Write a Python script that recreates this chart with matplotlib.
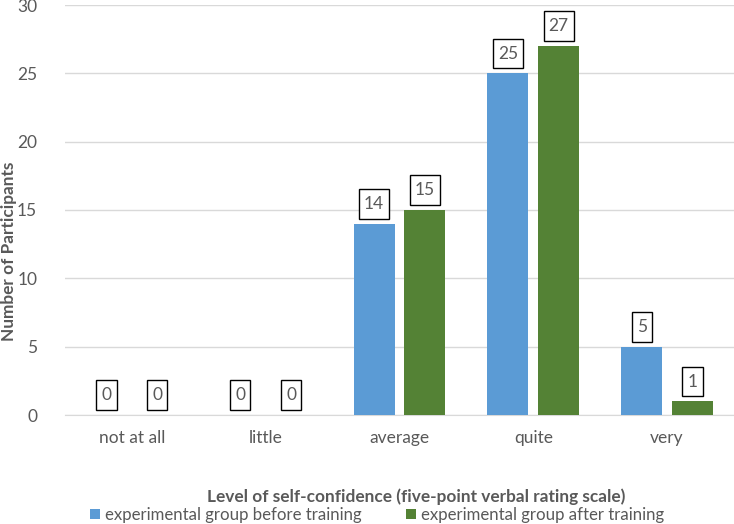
import numpy as np
import matplotlib.pyplot as plt
from matplotlib.path import Path

plt.rcParams['font.family'] = ['Lato', 'DejaVu Sans']

categories = ['not at all', 'little', 'average', 'quite', 'very']
before = [0, 0, 14, 25, 5]
after = [0, 0, 15, 27, 1]
labels = ['experimental group before training', 'experimental group after training']

gray = '#595959'
blue = '#5B9BD5'
green = '#548235'


# label box: taller padding than wide, like the Excel callouts
def label_box(x0, y0, width, height, mutation_size):
    px, py = 0.29 * mutation_size, 0.39 * mutation_size
    x0, y0 = x0 - px, y0 - py
    x1, y1 = x0 + width + 2 * px, y0 + height + 2 * py
    return Path([(x0, y0), (x1, y0), (x1, y1), (x0, y1), (x0, y0)], closed=True)


fig = plt.figure(figsize=(7.34, 5.24), dpi=100)
ax = fig.add_axes([65 / 734, 1 - 415 / 524, 1 - 65 / 734, 410 / 524])

x = np.arange(len(categories))
w = 0.306
off = 0.19
b1 = ax.bar(x - off, before, w, color=blue, label=labels[0], zorder=3)
b2 = ax.bar(x + off, after, w, color=green, label=labels[1], zorder=3)

for bars, vals in [(b1, before), (b2, after)]:
    for rect, v in zip(bars, vals):
        ax.annotate(str(v), (rect.get_x() + rect.get_width() / 2, v),
                    xytext=(0, 8.5), textcoords='offset points',
                    ha='center', va='bottom', fontsize=12.5, color=gray,
                    bbox=dict(boxstyle=label_box, fc='white', ec='black', lw=1))

ax.set_xlim(-0.5, len(categories) - 0.5)
ax.set_ylim(0, 30)
ax.set_yticks(range(0, 31, 5))
ax.set_xticks(x)
ax.set_xticklabels(categories)
ax.tick_params(axis='both', length=0, labelsize=12.5, colors=gray)
ax.tick_params(axis='x', pad=11)
ax.tick_params(axis='y', pad=20)
ax.grid(axis='y', color='#D9D9D9', lw=1, zorder=0)
for s in ['top', 'right', 'left']:
    ax.spines[s].set_visible(False)
ax.spines['bottom'].set_color('#D9D9D9')

fig.text(9 / 734, 1 - 251 / 524, 'Number of Participants', rotation=90,
         ha='center', va='center', fontsize=12.4, fontweight='bold', color=gray)
fig.text(416 / 734, 1 - 497 / 524, 'Level of self-confidence (five-point verbal rating scale)',
         ha='center', va='center', fontsize=12.4, fontweight='bold', color=gray)

leg = fig.legend(loc='center', bbox_to_anchor=(377 / 734, 1 - 515 / 524), ncol=2,
                 frameon=False, fontsize=12.1, handlelength=0.6, handleheight=0.6,
                 columnspacing=2.6, handletextpad=0.3, borderaxespad=0, borderpad=0)
for t in leg.get_texts():
    t.set_color(gray)

fig.savefig('out.png', dpi=100)
